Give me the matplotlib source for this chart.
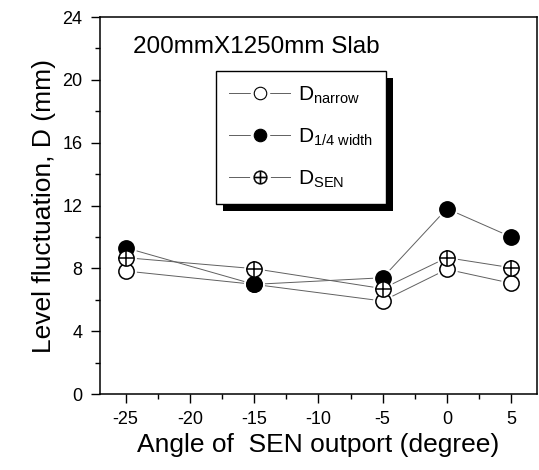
import matplotlib
matplotlib.use("Agg")
import matplotlib.pyplot as plt
from matplotlib.patches import Rectangle
from matplotlib.lines import Line2D
from matplotlib.legend_handler import HandlerTuple

plt.rcParams['font.family'] = ['Liberation Sans', 'DejaVu Sans']
plt.rcParams['mathtext.fontset'] = 'custom'
plt.rcParams['mathtext.rm'] = 'Liberation Sans'
plt.rcParams['mathtext.it'] = 'Liberation Sans'
plt.rcParams['mathtext.default'] = 'rm'
plt.rcParams['axes.unicode_minus'] = False

angles = [-25, -15, -5, 0, 5]
d_narrow = [7.83, 6.98, 5.92, 7.94, 7.05]
d_quarter = [9.31, 6.98, 7.40, 11.80, 10.00]
d_sen = [8.68, 7.98, 6.71, 8.68, 8.04]
labels = [r'D$_{\mathrm{narrow}}$', r'D$_{\mathrm{1/4\ width}}$', r'D$_{\mathrm{SEN}}$']
x_ticks = [-25, -20, -15, -10, -5, 0, 5]
y_ticks = [0, 4, 8, 12, 16, 20, 24]

fig = plt.figure(figsize=(5.39, 4.70), dpi=100)
ax = fig.add_axes([0.1855, 0.1617, 0.8105, 0.8021])

ms = 11
lc = '#606060'
series = [(d_narrow, 'white', False), (d_quarter, 'black', False), (d_sen, 'white', True)]
for ys, fc, plus in series:
    ax.plot(angles, ys, '-', color=lc, lw=0.7, zorder=2)
for ys, fc, plus in series:
    ax.plot(angles, ys, ls='none', marker='o', ms=ms + 4, mfc='white', mec='none', zorder=2.5)
for ys, fc, plus in series:
    ax.plot(angles, ys, ls='none', marker='o', ms=ms, mfc=fc, mec='black', mew=1.1, zorder=3)
    if plus:
        ax.plot(angles, ys, ls='none', marker='+', ms=ms, mec='black', mew=1.1, zorder=4)

ax.set_xlim(-27, 7)
ax.set_ylim(0, 24)
ax.set_xticks(x_ticks)
ax.set_yticks(y_ticks)
ax.set_xticks([-22.5, -17.5, -12.5, -7.5, -2.5, 2.5], minor=True)
ax.set_yticks([2, 6, 10, 14, 18, 22], minor=True)
ax.tick_params(which='major', direction='out', length=6.5, width=1.0,
               labelsize=13, pad=6)
ax.tick_params(which='minor', direction='out', length=3.5, width=1.0)
for s in ax.spines.values():
    s.set_linewidth(1.1)

ax.set_xlabel('Angle of  SEN outport (degree)', fontsize=19, labelpad=3)
ax.set_ylabel('Level fluctuation, D (mm)', fontsize=19, labelpad=5)

ax.text(0.075, 0.92, '200mmX1250mm Slab', transform=ax.transAxes,
        fontsize=17.5, va='center', ha='left')


def handle(fc, marker='o', ms_=9, mew=0.8):
    ln = Line2D([], [], color=lc, lw=0.7)
    halo = Line2D([], [], ls='none', marker='o', ms=ms_ + 5, mfc='white', mec='none')
    mk = Line2D([], [], ls='none', marker=marker, ms=ms_, mfc=fc, mec='black', mew=mew)
    return (ln, halo, mk)


handles = [handle('white'), handle('black'),
           handle('black', marker='$\u2295$', ms_=10, mew=0.2)]
leg = ax.legend(handles, labels, loc='upper left',
                handler_map={tuple: HandlerTuple(ndivide=1, pad=0)},
                bbox_to_anchor=(0.265, 0.857), borderaxespad=0, fontsize=15,
                frameon=True, fancybox=False, edgecolor='black', framealpha=1,
                handlelength=2.9, labelspacing=1.0, borderpad=0.65,
                handletextpad=0.4)
leg.get_frame().set_linewidth(1.0)
leg.set_zorder(6)

fig.canvas.draw()
bb = leg.get_window_extent()
shadow = Rectangle((bb.x0 + 7, bb.y0 - 7), bb.width, bb.height,
                   transform=None, facecolor='black', edgecolor='none', zorder=5.5)
ax.add_artist(shadow)

fig.savefig('out.png', dpi=100)
